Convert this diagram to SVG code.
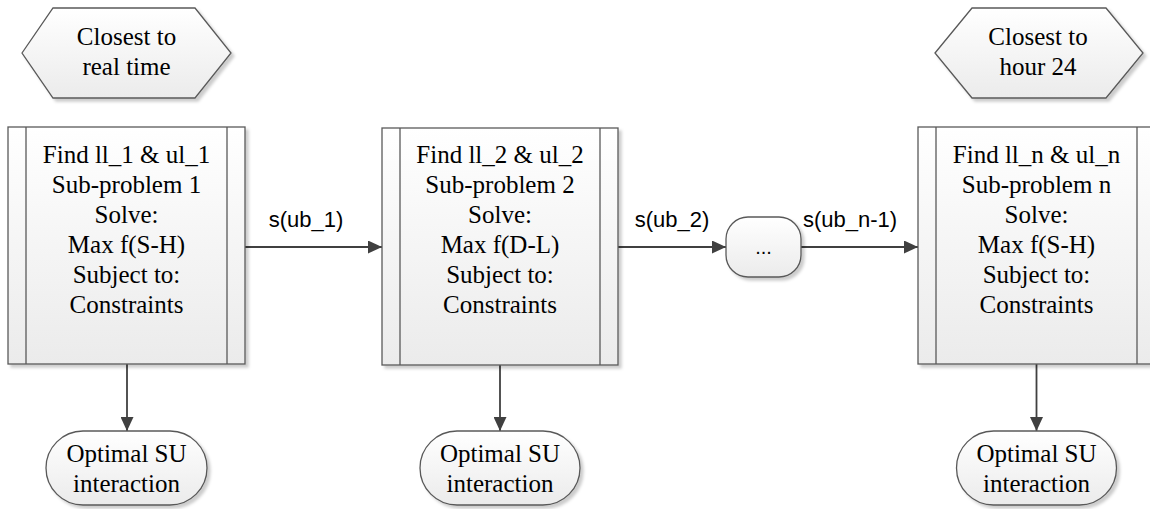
<svg xmlns="http://www.w3.org/2000/svg" width="1150" height="509" viewBox="0 0 1150 509">
<style>
.shape{fill:url(#g);stroke:#595959;stroke-width:1.3;filter:url(#sh)}
.inner{stroke:#595959;stroke-width:1.3;fill:none}
.t{font-family:'Liberation Serif','Times New Roman','DejaVu Serif',serif;font-size:25px;fill:#000;text-anchor:middle}
.lbl{font-family:'Liberation Sans',Arial,sans-serif;font-size:22px;fill:#000;text-anchor:middle}
.con{stroke:#404040;stroke-width:1.8;fill:none;marker-end:url(#ah)}
</style>
<defs>
<linearGradient id="g" x1="0" y1="0" x2="0" y2="1">
<stop offset="0" stop-color="#ffffff"/>
<stop offset="1" stop-color="#ebebeb"/>
</linearGradient>
<filter id="sh" x="-10%" y="-10%" width="130%" height="130%">
<feDropShadow dx="3" dy="3" stdDeviation="1.5" flood-color="#000" flood-opacity="0.2"/>
</filter>
<marker id="ah" markerWidth="14" markerHeight="13" refX="14" refY="6.5" orient="auto" markerUnits="userSpaceOnUse">
<path d="M0,0 L14,6.5 L0,13 z" fill="#404040"/>
</marker>
</defs>

<g id="connectors">
<line class="con" x1="245" y1="247" x2="382" y2="247"/>
<line class="con" x1="618" y1="247" x2="726" y2="247"/>
<line class="con" x1="801" y1="247" x2="918" y2="247"/>
<line class="con" x1="127" y1="364" x2="127" y2="431"/>
<line class="con" x1="500" y1="365" x2="500" y2="431"/>
<line class="con" x1="1036.5" y1="364" x2="1036.5" y2="431"/>
<text class="lbl" x="306" y="227">s(ub_1)</text>
<text class="lbl" x="672" y="227">s(ub_2)</text>
<text class="lbl" x="850" y="227">s(ub_n-1)</text>
</g>

<g id="hex1" font-family="Liberation Serif, serif">
<polygon class="shape" points="22,53 53,8 195,8 231,53 195,98 53,98"/>
<text class="t" x="126.5" y="45">Closest to</text>
<text class="t" x="126.5" y="75">real time</text>
</g>

<g id="hex2">
<polygon class="shape" points="935,53 972,8 1106,8 1143,53 1106,98 972,98"/>
<text class="t" x="1038" y="45">Closest to</text>
<text class="t" x="1038" y="75">hour 24</text>
</g>

<g id="box1">
<rect class="shape" x="8" y="127" width="237" height="237"/>
<line class="inner" x1="26" y1="127" x2="26" y2="364"/>
<line class="inner" x1="227" y1="127" x2="227" y2="364"/>
<text class="t" x="126.5" y="163">Find ll_1 &amp; ul_1</text>
<text class="t" x="126.5" y="193">Sub-problem 1</text>
<text class="t" x="126.5" y="223">Solve:</text>
<text class="t" x="126.5" y="253">Max f(S-H)</text>
<text class="t" x="126.5" y="283">Subject to:</text>
<text class="t" x="126.5" y="313">Constraints</text>
</g>

<g id="box2">
<rect class="shape" x="382" y="128" width="236" height="237"/>
<line class="inner" x1="400" y1="128" x2="400" y2="365"/>
<line class="inner" x1="600" y1="128" x2="600" y2="365"/>
<text class="t" x="500" y="163">Find ll_2 &amp; ul_2</text>
<text class="t" x="500" y="193">Sub-problem 2</text>
<text class="t" x="500" y="223">Solve:</text>
<text class="t" x="500" y="253">Max f(D-L)</text>
<text class="t" x="500" y="283">Subject to:</text>
<text class="t" x="500" y="313">Constraints</text>
</g>

<g id="dots">
<rect class="shape" x="726" y="217" width="75" height="60" rx="22" ry="22"/>
<text class="lbl" x="763.5" y="254" style="font-size:20px">...</text>
</g>

<g id="box3">
<rect class="shape" x="918" y="127" width="237" height="237"/>
<line class="inner" x1="936" y1="127" x2="936" y2="364"/>
<line class="inner" x1="1137" y1="127" x2="1137" y2="364"/>
<text class="t" x="1036.5" y="163">Find ll_n &amp; ul_n</text>
<text class="t" x="1036.5" y="193">Sub-problem n</text>
<text class="t" x="1036.5" y="223">Solve:</text>
<text class="t" x="1036.5" y="253">Max f(S-H)</text>
<text class="t" x="1036.5" y="283">Subject to:</text>
<text class="t" x="1036.5" y="313">Constraints</text>
</g>

<g id="out1">
<rect class="shape" x="46" y="431" width="161" height="74" rx="37" ry="37"/>
<text class="t" x="126.5" y="462">Optimal SU</text>
<text class="t" x="126.5" y="492">interaction</text>
</g>

<g id="out2">
<rect class="shape" x="420" y="431" width="160" height="74" rx="37" ry="37"/>
<text class="t" x="500" y="462">Optimal SU</text>
<text class="t" x="500" y="492">interaction</text>
</g>

<g id="out3">
<rect class="shape" x="956.5" y="431" width="160" height="74" rx="37" ry="37"/>
<text class="t" x="1036.5" y="462">Optimal SU</text>
<text class="t" x="1036.5" y="492">interaction</text>
</g>
</svg>
